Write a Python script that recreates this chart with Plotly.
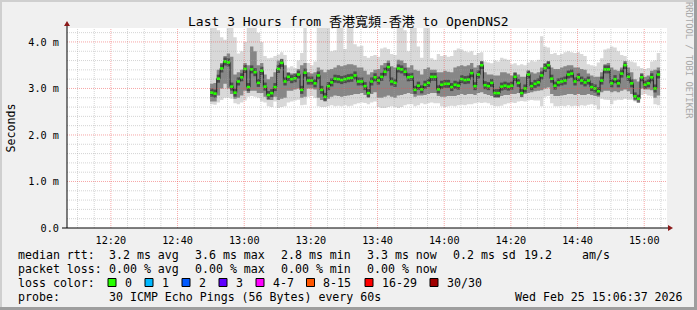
import plotly.graph_objects as go
import pandas as pd

# ---------------- data (milliseconds) ----------------
first_bin = "2026-02-25 12:49:45"
step_seconds = 60
x_range = ["2026-02-25 12:06:50", "2026-02-25 15:06:50"]

median_ms = [
    2.91, 2.89, 3.21, 3.43, 3.58, 3.56, 3.04, 2.91, 3.15, 3.24, 3.42, 3.03, 3.41, 3.35, 3.12, 3.38, 3.04, 2.86, 2.90, 3.03,
    3.42, 3.55, 3.15, 3.25, 3.20, 3.22, 3.30, 2.97, 3.34, 3.17, 3.17, 3.11, 3.28, 2.97,
    2.82, 3.05, 3.13, 3.21, 3.20, 3.18, 3.20, 3.22, 3.23, 3.28, 3.15, 3.15, 3.05, 2.90, 3.15, 3.24, 3.17, 3.25, 3.36, 3.46,
    3.15, 3.12, 3.43, 3.41, 3.36, 3.24, 3.25, 2.97, 3.06, 2.98, 3.08, 3.12, 3.25, 3.25,
    2.98, 3.08, 3.10, 3.10, 3.03, 3.08, 3.06, 3.20, 3.18, 3.19, 3.33, 3.05, 3.30, 3.50, 3.07, 3.05, 3.12, 2.90, 2.90, 3.04,
    3.06, 3.04, 3.06, 3.25, 3.12, 2.90, 3.00, 3.30, 3.05, 3.10, 3.13, 3.28, 3.44, 3.50,
    3.21, 3.06, 3.13, 3.15, 3.17, 3.30, 3.32, 3.15, 3.24, 3.17, 3.13, 3.17, 3.03, 3.00, 2.94, 3.17, 3.41, 3.41, 3.11, 3.20,
    3.11, 3.32, 3.50, 3.25, 3.11, 2.83, 2.78, 3.24, 3.08, 3.11, 3.24, 3.00, 3.30,
]
smoke_max = [
    4.30, 4.30, 4.25, 4.10, 4.05, 4.30, 4.30, 4.10, 3.75, 3.80, 4.00, 4.30, 4.30, 4.30, 4.20, 4.00, 3.70, 3.65, 3.66, 3.70,
    3.73, 3.78, 3.72, 3.45, 3.48, 3.44, 3.60, 3.76, 4.30, 3.55, 3.50, 3.58, 4.30, 4.30,
    4.30, 4.30, 3.80, 3.82, 4.30, 4.30, 3.85, 4.30, 4.30, 3.95, 3.90, 3.92, 3.70, 3.66, 3.70, 3.72, 3.68, 3.86, 3.88, 3.85,
    3.74, 3.72, 4.30, 4.30, 4.25, 3.80, 4.30, 4.30, 3.90, 3.66, 4.30, 4.30, 3.65, 3.62,
    3.74, 3.70, 3.72, 3.68, 3.70, 3.82, 3.86, 3.84, 3.80, 3.78, 3.80, 3.72, 3.76, 3.78, 3.58, 3.56, 3.54, 3.60, 3.58, 3.66,
    3.64, 3.62, 3.52, 3.54, 3.50, 3.52, 3.50, 3.56, 3.60, 3.58, 3.62, 4.12, 3.90, 3.88,
    3.74, 3.76, 3.72, 3.74, 3.78, 3.80, 3.78, 3.76, 3.78, 3.74, 3.70, 3.52, 3.50, 3.48, 3.56, 3.65, 3.84, 3.86, 3.90, 3.88,
    3.80, 3.72, 3.70, 3.60, 3.58, 3.56, 3.48, 3.44, 3.42, 3.44, 3.58, 3.60, 3.76,
]
smoke_hi = [
    3.10, 3.12, 3.40, 3.55, 3.70, 3.75, 3.68, 3.30, 3.35, 3.40, 3.55, 3.50, 3.90, 3.80, 3.50, 3.55, 3.30, 3.20, 3.25, 3.35,
    3.60, 3.62, 3.50, 3.35, 3.32, 3.33, 3.42, 3.50, 3.55, 3.35, 3.32, 3.35, 3.45, 3.40,
    3.35, 3.40, 3.42, 3.45, 3.50, 3.48, 3.50, 3.52, 3.52, 3.50, 3.45, 3.45, 3.38, 3.30, 3.35, 3.40, 3.42, 3.50, 3.55, 3.60,
    3.48, 3.45, 3.62, 3.60, 3.55, 3.45, 3.50, 3.40, 3.38, 3.30, 3.42, 3.45, 3.40, 3.40,
    3.35, 3.35, 3.38, 3.36, 3.35, 3.45, 3.48, 3.50, 3.48, 3.50, 3.55, 3.45, 3.50, 3.58, 3.35, 3.30, 3.30, 3.28, 3.28, 3.35,
    3.35, 3.32, 3.28, 3.35, 3.30, 3.25, 3.25, 3.38, 3.35, 3.32, 3.35, 3.45, 3.55, 3.58,
    3.45, 3.42, 3.42, 3.45, 3.48, 3.50, 3.50, 3.45, 3.45, 3.42, 3.40, 3.32, 3.28, 3.25, 3.25, 3.35, 3.52, 3.55, 3.45, 3.40,
    3.38, 3.45, 3.55, 3.45, 3.35, 3.20, 3.15, 3.30, 3.25, 3.28, 3.38, 3.40, 3.45,
]
smoke_lo = [
    2.72, 2.72, 2.85, 3.00, 3.10, 3.00, 2.88, 2.78, 2.80, 2.85, 2.95, 2.90, 2.95, 2.95, 2.90, 2.90, 2.82, 2.75, 2.75, 2.82,
    2.75, 2.78, 2.80, 2.95, 2.95, 2.98, 3.00, 2.80, 2.82, 3.00, 3.00, 2.98, 2.80, 2.75,
    2.72, 2.78, 2.82, 2.85, 2.84, 2.82, 2.84, 2.85, 2.86, 2.88, 2.88, 2.90, 2.86, 2.80, 2.88, 2.92, 2.80, 2.80, 2.82, 2.85,
    2.82, 2.80, 2.85, 2.86, 2.88, 2.90, 2.88, 2.82, 2.85, 2.85, 2.86, 2.88, 2.90, 2.90,
    2.84, 2.82, 2.82, 2.84, 2.84, 2.84, 2.86, 2.88, 2.86, 2.88, 2.88, 2.86, 2.90, 2.92, 2.88, 2.86, 2.84, 2.80, 2.80, 2.84,
    2.86, 2.86, 2.88, 2.88, 2.90, 2.86, 2.88, 2.90, 2.92, 2.94, 2.95, 2.96, 3.00, 3.02,
    2.88, 2.84, 2.84, 2.85, 2.86, 2.88, 2.88, 2.86, 2.88, 2.86, 2.86, 2.88, 2.86, 2.84, 2.82, 2.92, 2.95, 2.95, 2.92, 2.94,
    2.92, 2.95, 2.98, 2.94, 2.88, 2.78, 2.76, 3.00, 2.98, 2.98, 2.96, 2.80, 2.85,
]
smoke_min = [
    2.66, 2.65, 2.70, 2.75, 2.80, 2.80, 2.78, 2.68, 2.66, 2.70, 2.74, 2.82, 2.84, 2.82, 2.80, 2.72, 2.70, 2.62, 2.60, 2.72,
    2.58, 2.60, 2.62, 2.70, 2.72, 2.74, 2.76, 2.64, 2.65, 2.82, 2.84, 2.80, 2.62, 2.60,
    2.60, 2.62, 2.64, 2.62, 2.63, 2.62, 2.64, 2.62, 2.63, 2.66, 2.68, 2.70, 2.69, 2.66, 2.70, 2.72, 2.60, 2.58, 2.58, 2.60,
    2.62, 2.60, 2.58, 2.60, 2.64, 2.66, 2.66, 2.62, 2.64, 2.68, 2.66, 2.68, 2.70, 2.68,
    2.68, 2.62, 2.60, 2.62, 2.63, 2.62, 2.64, 2.65, 2.64, 2.66, 2.66, 2.68, 2.70, 2.69, 2.70, 2.68, 2.64, 2.62, 2.62, 2.63,
    2.66, 2.68, 2.70, 2.69, 2.72, 2.73, 2.72, 2.74, 2.75, 2.74, 2.74, 2.62, 2.82, 2.84,
    2.68, 2.62, 2.62, 2.63, 2.62, 2.64, 2.62, 2.63, 2.62, 2.64, 2.63, 2.65, 2.66, 2.64, 2.55, 2.78, 2.76, 2.75, 2.66, 2.74,
    2.76, 2.75, 2.78, 2.76, 2.76, 2.72, 2.70, 2.86, 2.88, 2.85, 2.83, 2.66, 2.64,
]
for arr in (smoke_max, smoke_hi, smoke_lo, smoke_min):
    assert len(arr) == len(median_ms), len(arr)

y_ticks = [0, 1, 2, 3, 4]
y_tick_text = ["0.0", "1.0 m", "2.0 m", "3.0 m", "4.0 m"]
x_tick_times = ["12:20", "12:40", "13:00", "13:20", "13:40", "14:00", "14:20", "14:40", "15:00"]

title = "Last 3 Hours from 香港寬頻-香港 to OpenDNS2"
stats_rtt = [("median rtt:", 16), ("3.2 ms avg", 107), ("3.6 ms max", 193), ("2.8 ms min", 279),
             ("3.3 ms now", 365), ("0.2 ms sd", 451), ("19.2", 522), ("am/s", 580)]
stats_loss = [("packet loss:", 16), ("0.00 % avg", 107), ("0.00 % max", 193), ("0.00 % min", 279),
              ("0.00 % now", 365)]
loss_labels = ["0", "1", "2", "3", "4-7", "8-15", "16-29", "30/30"]
loss_colors = ["#26ff00", "#00b8ff", "#0059ff", "#5e00ff", "#ff00ff", "#ff5500", "#ff0000", "#a00000"]
loss_box_x = [108, 145, 182, 219, 256, 306.5, 365, 430]
probe_text = "30 ICMP Echo Pings (56 Bytes) every 60s"
stamp_text = "Wed Feb 25 15:06:37 2026"

# ---------------- geometry ----------------
W, H = 697, 310
PL, PR, PT, PB = 67, 667, 28, 228
Y_TOP = 4.3
MONO = "DejaVu Sans Mono"


def xp(px):
    return (px - PL) / (PR - PL)


def yp(py):
    return (PB - py) / (PB - PT)


edges = pd.date_range(first_bin, periods=len(median_ms) + 1, freq=f"{step_seconds}s")
xe = [t.strftime("%Y-%m-%d %H:%M:%S") for t in edges]


def ext(a):
    return list(a) + [a[-1]]


fig = go.Figure()


def band(lo, hi, color):
    fig.add_trace(go.Scatter(x=xe, y=ext(lo), mode="lines", line=dict(width=0, shape="hv"),
                             hoverinfo="skip", showlegend=False))
    fig.add_trace(go.Scatter(x=xe, y=ext(hi), mode="lines", line=dict(width=0, shape="hv"),
                             fill="tonexty", fillcolor=color, hoverinfo="skip", showlegend=False))


band(smoke_min, smoke_max, "#d9d9d9")
band(smoke_lo, smoke_hi, "#878787")

# per-step segments of the median
gx, gy = [], []
for i, m in enumerate(median_ms):
    gx += [xe[i], xe[i + 1], None]
    gy += [m, m, None]

# dark core of the smoke around each median (horizontal soft strokes)
fig.add_trace(go.Scatter(x=gx, y=gy, mode="lines", line=dict(color="rgba(45,45,45,0.65)", width=8),
                         hoverinfo="skip", showlegend=False))
fig.add_trace(go.Scatter(x=xe, y=ext(median_ms), mode="lines",
                         line=dict(color="#202020", width=1, shape="hv"), showlegend=False))
fig.add_trace(go.Scatter(x=gx, y=gy, mode="lines", line=dict(color="#26ff00", width=2.6),
                         showlegend=False))

shapes = []
# grid (drawn above the smoke, like rrdtool)
t = pd.Timestamp("2026-02-25 12:10:00")
while t < pd.Timestamp(x_range[1]):
    major = (t.minute % 20 == 0)
    ts = t.strftime("%Y-%m-%d %H:%M:%S")
    shapes.append(dict(type="line", xref="x", yref="paper", x0=ts, x1=ts, y0=0, y1=1, layer="above",
                       line=dict(color="rgba(240,80,80,0.5)" if major else "rgba(160,160,160,0.45)",
                                 width=1, dash="1px,1px")))
    t += pd.Timedelta(minutes=5)
for k in range(1, 22):
    v = k * 0.2
    major = (k % 5 == 0)
    shapes.append(dict(type="line", xref="paper", yref="y", x0=0, x1=1, y0=v, y1=v, layer="above",
                       line=dict(color="rgba(240,80,80,0.5)" if major else "rgba(160,160,160,0.45)",
                                 width=1, dash="1px,1px")))

# axes lines and arrows
shapes.append(dict(type="line", xref="paper", yref="paper", x0=xp(62), x1=xp(669), y0=yp(228), y1=yp(228),
                   layer="above", line=dict(color="#000000", width=1)))
shapes.append(dict(type="line", xref="paper", yref="paper", x0=xp(67), x1=xp(67), y0=yp(228), y1=yp(24),
                   layer="above", line=dict(color="#000000", width=1)))
shapes.append(dict(type="path", xref="paper", yref="paper", layer="above",
                   path=f"M {xp(668)},{yp(225)} L {xp(673)},{yp(228)} L {xp(668)},{yp(231)} Z",
                   fillcolor="#8b1a1a", line=dict(width=0)))
shapes.append(dict(type="path", xref="paper", yref="paper", layer="above",
                   path=f"M {xp(64)},{yp(26)} L {xp(67)},{yp(21)} L {xp(70)},{yp(26)} Z",
                   fillcolor="#8b1a1a", line=dict(width=0)))

# frame (3D border)
shapes.append(dict(type="rect", xref="paper", yref="paper", x0=xp(0), x1=xp(697), y0=yp(0), y1=yp(2),
                   fillcolor="#cfcfcf", line=dict(width=0), layer="above"))
shapes.append(dict(type="rect", xref="paper", yref="paper", x0=xp(0), x1=xp(2), y0=yp(0), y1=yp(310),
                   fillcolor="#cfcfcf", line=dict(width=0), layer="above"))
shapes.append(dict(type="rect", xref="paper", yref="paper", x0=xp(0), x1=xp(697), y0=yp(307), y1=yp(310),
                   fillcolor="#9e9e9e", line=dict(width=0), layer="above"))
shapes.append(dict(type="rect", xref="paper", yref="paper", x0=xp(694), x1=xp(697), y0=yp(0), y1=yp(310),
                   fillcolor="#9e9e9e", line=dict(width=0), layer="above"))

# loss colour boxes
for bx, col in zip(loss_box_x, loss_colors):
    shapes.append(dict(type="rect", xref="paper", yref="paper", x0=xp(bx), x1=xp(bx + 8),
                       y0=yp(278.5), y1=yp(286.5), fillcolor=col, line=dict(color="#000000", width=1),
                       layer="above"))

annotations = []


def txt(s, px, py, size=11.6, anchor="left", color="#000000", angle=0, family=MONO):
    annotations.append(dict(text=s, x=xp(px), y=yp(py), xref="paper", yref="paper",
                            xanchor=anchor, yanchor="middle", showarrow=False, textangle=angle,
                            font=dict(family=family, size=size, color=color)))


txt(title, 348, 21.5, size=13, anchor="center", family=MONO + ", Noto Sans CJK TC")
txt("Seconds", 10.5, 128, size=11.6, anchor="center", angle=-90)
txt("RRDTOOL / TOBI OETIKER", 689, 60, size=8.8, anchor="center", angle=90, color="#a8a8a8")
for s, px in stats_rtt:
    txt(s, px, 255, anchor="left")
for s, px in stats_loss:
    txt(s, px, 268.5, anchor="left")
txt("loss color:", 16, 282.5)
for bx, lab in zip(loss_box_x, loss_labels):
    txt(lab, bx + 14.5, 282.5)
txt("probe:", 16, 296.5)
txt(probe_text, 107, 296.5)
txt(stamp_text, 513, 296.5)

x_tick_vals = [f"2026-02-25 {h}:00" for h in x_tick_times]

fig.update_layout(
    width=W, height=H,
    margin=dict(l=PL, r=W - PR, t=PT, b=H - PB, pad=0),
    paper_bgcolor="#f0f0f0", plot_bgcolor="#ffffff",
    showlegend=False,
    shapes=shapes, annotations=annotations,
    xaxis=dict(type="date", range=x_range, showgrid=False, zeroline=False, showline=False,
               tickvals=x_tick_vals, ticktext=x_tick_times, ticks="outside", ticklen=3,
               tickcolor="rgba(0,0,0,0)", tickfont=dict(family=MONO, size=10.2, color="#000000"),
               fixedrange=True),
    yaxis=dict(range=[0, Y_TOP], showgrid=False, zeroline=False, showline=False,
               tickvals=y_ticks, ticktext=y_tick_text, ticks="outside", ticklen=5,
               tickcolor="rgba(0,0,0,0)", tickfont=dict(family=MONO, size=10.2, color="#000000"),
               fixedrange=True),
)

fig.write_html("out.html")
